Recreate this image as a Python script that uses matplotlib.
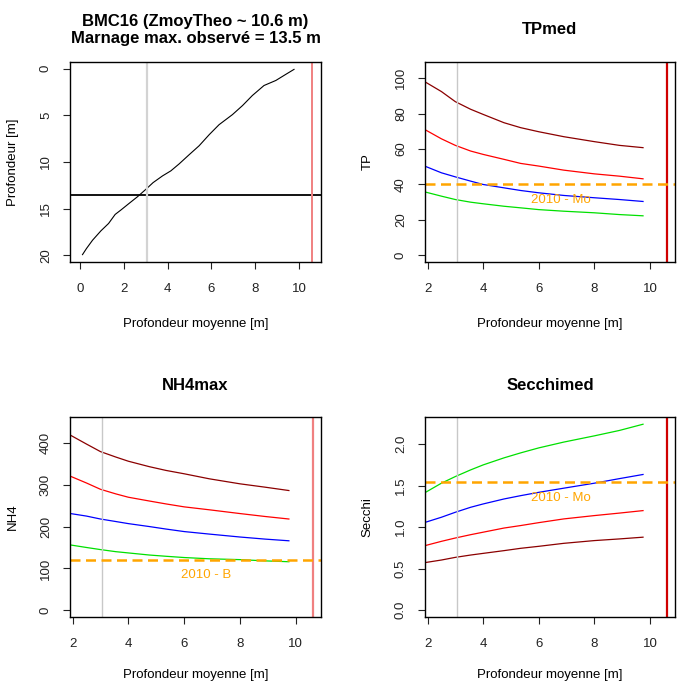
import matplotlib.pyplot as plt
import matplotlib.ticker as mticker

plt.rcParams['font.family'] = ['Liberation Sans', 'DejaVu Sans']

# Panel 1: profondeur moyenne vs profondeur
prof_moy = [0.12, 0.30, 0.58, 0.96, 1.31, 1.61, 1.87, 2.25, 2.63, 3.01, 3.34, 3.77, 4.15,
            4.53, 4.98, 5.44, 5.90, 6.35, 6.96, 7.42, 7.87, 8.40, 8.94, 9.39, 9.77]
profondeur = [19.93, 19.28, 18.38, 17.38, 16.59, 15.62, 15.15, 14.43, 13.72, 12.93, 12.21, 11.49, 10.95,
              10.20, 9.23, 8.26, 7.07, 6.00, 4.92, 3.95, 2.87, 1.80, 1.26, 0.61, 0.07]
marnage = 13.5
zmoy_theo = 10.6
z_gray = 3.05

# Panels 2-4: common depth grid
x_depth = [1.93, 2.5, 3.0, 3.55, 4.0, 4.75, 5.35, 6.0, 6.9, 8.0, 8.9, 9.75]

tp_darkred = [97.8, 92.5, 86.8, 82.5, 79.6, 74.9, 72.1, 69.8, 67.0, 64.2, 62.1, 60.8]
tp_red = [70.8, 65.8, 62.1, 58.9, 57.0, 54.2, 51.9, 50.4, 48.1, 46.0, 44.7, 43.2]
tp_blue = [50.2, 46.6, 44.3, 41.9, 40.0, 38.1, 36.6, 35.3, 33.8, 32.5, 31.5, 30.4]
tp_green = [35.7, 33.4, 31.5, 30.0, 29.1, 27.7, 26.8, 25.8, 24.9, 24.0, 23.0, 22.3]

nh4_darkred = [418, 397, 379, 366, 356, 343, 334, 326, 314, 302, 294, 286]
nh4_red = [320, 304, 289, 278, 270, 261, 254, 247, 240, 231, 224, 218]
nh4_blue = [231, 225, 218, 212, 207, 200, 194, 188, 182, 175, 170, 166]
nh4_green = [156, 150, 145, 140, 137, 132, 129, 126, 123, 121, 118, 116]

sec_green = [1.42, 1.53, 1.61, 1.69, 1.75, 1.835, 1.895, 1.955, 2.025, 2.10, 2.165, 2.24]
sec_blue = [1.06, 1.12, 1.18, 1.24, 1.28, 1.34, 1.38, 1.42, 1.47, 1.53, 1.585, 1.635]
sec_red = [0.78, 0.83, 0.87, 0.91, 0.94, 0.99, 1.02, 1.055, 1.10, 1.14, 1.17, 1.20]
sec_darkred = [0.575, 0.605, 0.637, 0.665, 0.685, 0.718, 0.746, 0.77, 0.806, 0.839, 0.859, 0.88]

# Thresholds (2010)
tp_seuil, nh4_seuil, sec_seuil = 40, 121, 1.54
seuil_x = 6.78

curve_colors = ['#8B0000', '#FF0000', '#0000FF', '#00E000']

fig = plt.figure(figsize=(6.82, 6.83), dpi=100)
W, H = 682, 683


def add_ax(left, top, right, bottom):
    return fig.add_axes([left / W, 1 - bottom / H, (right - left) / W, (bottom - top) / H])


ax1 = add_ax(70, 62, 321, 262)
ax2 = add_ax(425, 62, 675, 262)
ax3 = add_ax(70, 417, 321, 617)
ax4 = add_ax(425, 417, 675, 617)

fs = 9.5
for ax in (ax1, ax2, ax3, ax4):
    for s in ax.spines.values():
        s.set_linewidth(1.0)
    ax.tick_params(direction='out', length=5, width=0.8, labelsize=fs, colors='#222222')
    ax.tick_params(axis='x', pad=10)
    ax.tick_params(axis='y', pad=8)
    ax.set_xlabel('Profondeur moyenne [m]', fontsize=fs)

# bottom row labels sit right at the lower edge of the picture
for ax in (ax1, ax2):
    ax.xaxis.set_label_coords(0.5, -0.28)
for ax in (ax3, ax4):
    ax.xaxis.set_label_coords(0.5, -0.26)

# Panel 1
ax1.plot(prof_moy, profondeur, color='black', lw=0.8)
ax1.axhline(marnage, color='black', lw=1.3)
ax1.axvline(z_gray, color='#D3D3D3', lw=1.6)
ax1.axvline(zmoy_theo, color='#F08080', lw=1.4)
ax1.set_xlim(-0.45, 11.0)
ax1.set_ylim(20.72, -0.72)
ax1.set_xticks([0, 2, 4, 6, 8, 10])
ax1.set_yticks([0, 5, 10, 15, 20])
ax1.set_ylabel('Profondeur [m]', fontsize=fs)
ax1.text(0.5, 1.16, 'BMC16 (ZmoyTheo ~ 10.6 m)\nMarnage max. observé = 13.5 m',
         transform=ax1.transAxes, ha='center', va='center', fontsize=12,
         fontweight='bold', linespacing=1.15)

panels = [
    (ax2, [tp_darkred, tp_red, tp_blue, tp_green], tp_seuil, '2010 - Mo', 'TPmed', 'TP',
     (-3.8, 109.2), [0, 20, 40, 60, 80, 100], '#D00000'),
    (ax3, [nh4_darkred, nh4_red, nh4_blue, nh4_green], nh4_seuil, '2010 - B', 'NH4max', 'NH4',
     (-16, 461.6), [0, 100, 200, 300, 400], '#F08080'),
    (ax4, [sec_darkred, sec_red, sec_blue, sec_green], sec_seuil, '2010 - Mo', 'Secchimed', 'Secchi',
     (-0.081, 2.327), [0.0, 0.5, 1.0, 1.5, 2.0], '#D00000'),
]

for ax, series, seuil, lab, title, ylab, ylim, yticks, rcol in panels:
    for vals, c in zip(series, curve_colors):
        ax.plot(x_depth, vals, color=c, lw=0.9)
    ax.axvline(z_gray, color='#C8C8C8', lw=1.0)
    ax.axvline(zmoy_theo, color=rcol, lw=1.6)
    ax.axhline(seuil, color='#FFA500', lw=1.8, dashes=(4.0, 2.2))
    ax.annotate(lab, (seuil_x, seuil), xytext=(0, -11), textcoords='offset points',
                ha='center', va='center', color='#FFA500', fontsize=fs)
    ax.set_xlim(1.91, 10.9)
    ax.set_ylim(*ylim)
    ax.set_xticks([2, 4, 6, 8, 10])
    ax.set_yticks(yticks)
    ax.set_ylabel(ylab, fontsize=fs)
    ax.text(0.5, 1.16, title, transform=ax.transAxes, ha='center', va='center',
            fontsize=12, fontweight='bold')

ax4.yaxis.set_major_formatter(mticker.FormatStrFormatter('%.1f'))

for ax in (ax1, ax2, ax3, ax4):
    ax.yaxis.set_label_coords(-0.205, 0.5)
    for t in ax.get_yticklabels():
        t.set_rotation(90)
        t.set_va('center')

fig.savefig('out.png', dpi=100)
